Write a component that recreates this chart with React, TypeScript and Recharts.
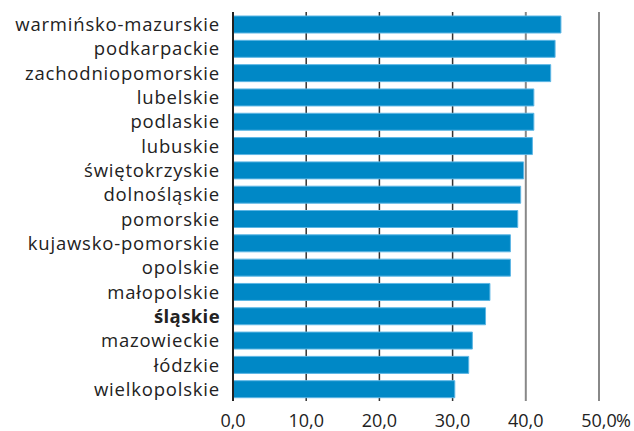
import React from "react";
import { BarChart, Bar, XAxis, YAxis, CartesianGrid } from "recharts";

const regions = [
  "warmińsko-mazurskie",
  "podkarpackie",
  "zachodniopomorskie",
  "lubelskie",
  "podlaskie",
  "lubuskie",
  "świętokrzyskie",
  "dolnośląskie",
  "pomorskie",
  "kujawsko-pomorskie",
  "opolskie",
  "małopolskie",
  "śląskie",
  "mazowieckie",
  "łódzkie",
  "wielkopolskie",
];
const shares = [44.8, 44.0, 43.4, 41.1, 41.1, 40.9, 39.7, 39.3, 38.9, 37.9, 37.9, 35.1, 34.5, 32.7, 32.2, 30.3];
const xTicks = [0, 10, 20, 30, 40, 50];
const darkLines = [10, 20, 30];
const lightLines = [40, 50];
const highlighted = "śląskie";

const FONT = "'Open Sans', 'Noto Sans', sans-serif";
const BLUE = "#0088c6";
const X_MAX = 50;

const data = regions.map((name, i) => ({ name, value: shares[i] }));

function RegionTick({ x, y, payload }: any) {
  const bold = payload.value === highlighted;
  return (
    <text
      x={x}
      y={y}
      dy={7}
      textAnchor="end"
      fontFamily={FONT}
      fontSize={18.5}
      letterSpacing={bold ? 0.4 : 0.8}
      fontWeight={bold ? 700 : 400}
      fill="#222"
    >
      {payload.value}
    </text>
  );
}

function ValueTick({ x, y, payload }: any) {
  const label = payload.value.toFixed(1).replace(".", ",");
  const last = payload.value === xTicks[xTicks.length - 1];
  return (
    <g>
      <text x={x} y={y} dy={12} textAnchor="middle" fontFamily={FONT} fontSize={18} fill="#222">
        {label}
      </text>
      {last && (
        <text x={x + 17} y={y} dy={12} textAnchor="start" fontFamily={FONT} fontSize={18} fill="#222">
          %
        </text>
      )}
    </g>
  );
}

// grid lines behind the bars, two shades
const linesAt = (values: number[]) => ({ xAxis, offset }: any) =>
  values.map((v) =>
    xAxis && typeof xAxis.scale === "function"
      ? xAxis.scale(v)
      : offset.left + (v / X_MAX) * offset.width
  );

export default function App() {
  return (
    <div style={{ position: "absolute", left: 0, top: 0, background: "#fff" }}>
      <BarChart
        width={634}
        height={431}
        data={data}
        layout="vertical"
        margin={{ top: 12, right: 35, bottom: 0, left: 0 }}
      >
        <CartesianGrid
          horizontal={false}
          stroke="#333"
          strokeWidth={1.5}
          verticalCoordinatesGenerator={linesAt(darkLines)}
        />
        <CartesianGrid
          horizontal={false}
          stroke="#888"
          strokeWidth={2}
          verticalCoordinatesGenerator={linesAt(lightLines)}
        />
        <XAxis
          type="number"
          domain={[0, X_MAX]}
          ticks={xTicks}
          axisLine={false}
          tickLine={false}
          tickSize={0}
          tickMargin={14}
          height={30}
          tick={<ValueTick />}
          interval={0}
        />
        <YAxis
          type="category"
          dataKey="name"
          width={233}
          axisLine={{ stroke: "#222", strokeWidth: 2 }}
          tickLine={false}
          tickSize={0}
          tickMargin={13}
          tick={<RegionTick />}
          interval={0}
        />
        <Bar
          dataKey="value"
          fill={BLUE}
          stroke="#5db6e4"
          strokeWidth={1}
          barSize={17}
          isAnimationActive={false}
        />
      </BarChart>
    </div>
  );
}
